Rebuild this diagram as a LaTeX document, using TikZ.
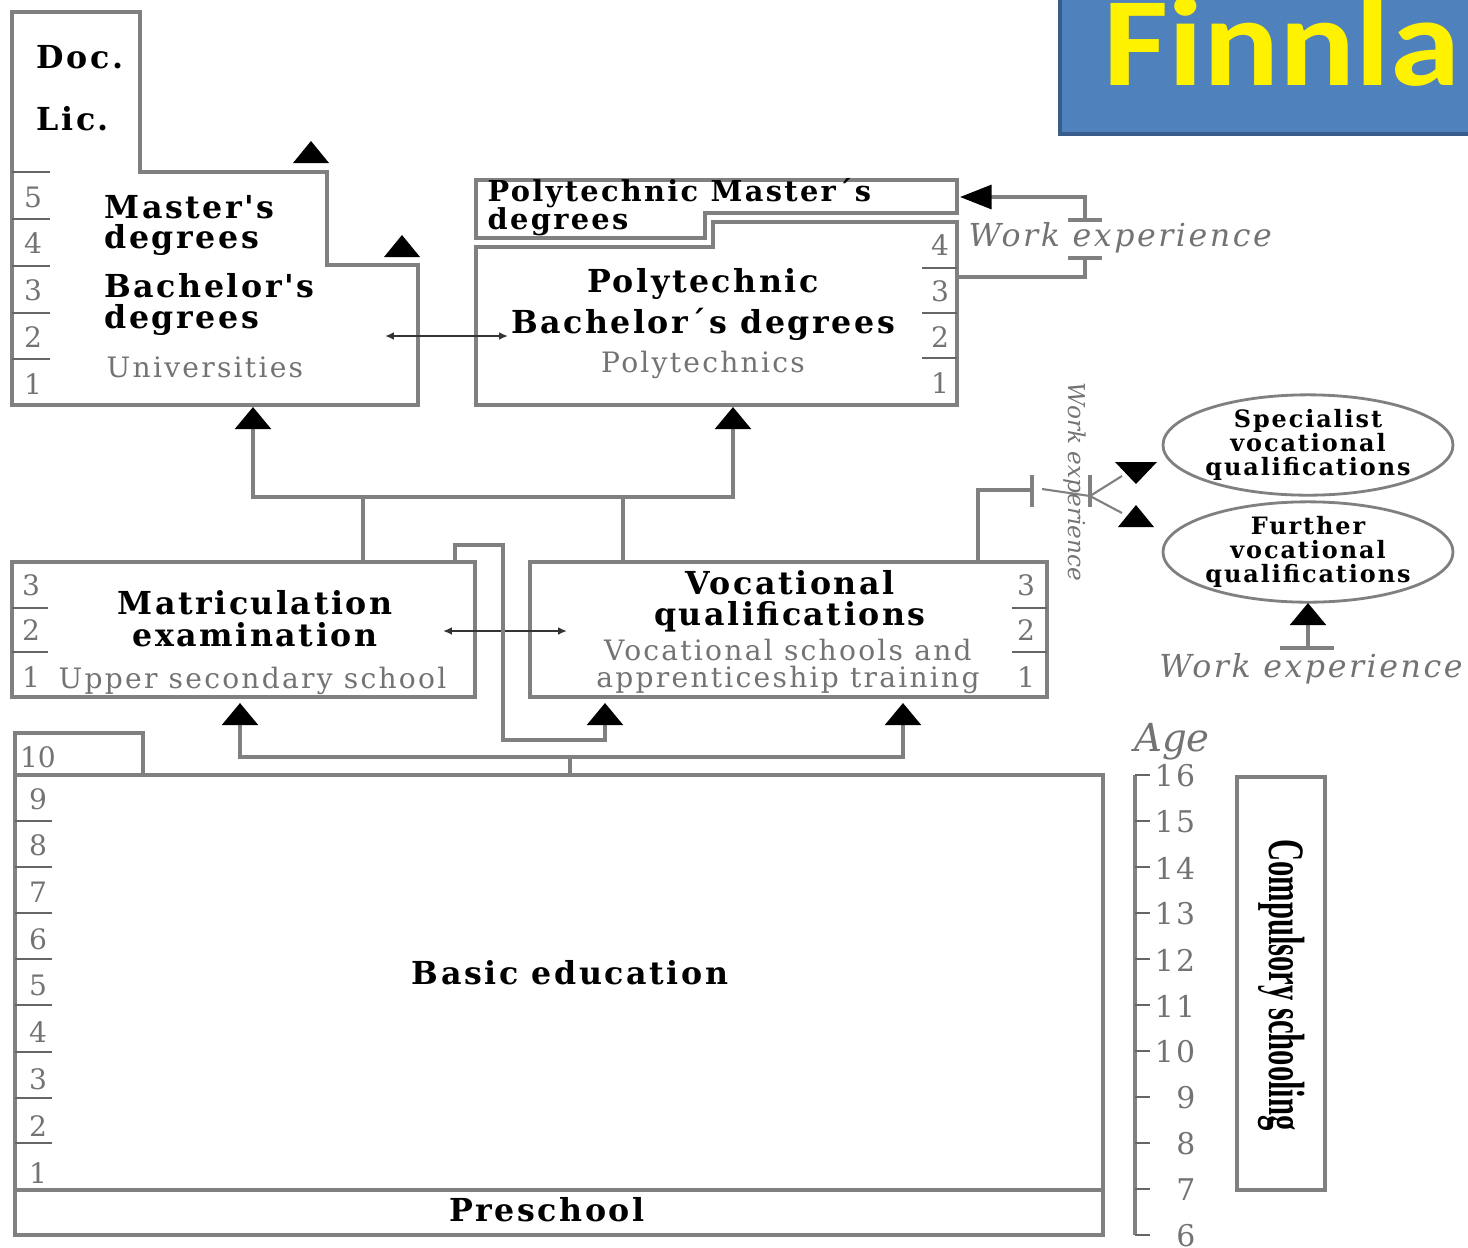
\documentclass[tikz,border=0pt]{standalone}
\usepackage{fontspec}
\usepackage{graphicx}
\setmainfont{DejaVu Serif}
\newfontfamily\spaced{DejaVu Serif}[LetterSpace=8]
\newfontfamily\narrowserif{Liberation Serif}
\newfontfamily\titlefont{Carlito}
\usetikzlibrary{arrows.meta,shapes.geometric}

\definecolor{boxgray}{RGB}{128,128,128}
\definecolor{textgray}{RGB}{115,115,115}
\definecolor{titleblue}{RGB}{79,129,189}
\definecolor{titleedge}{RGB}{56,93,138}

% lone arrow heads (x, y of the base)
\newcommand{\uptri}[2]{\fill[black] (#1-18,#2) -- (#1+18,#2) -- (#1,#2-22) -- cycle;}
\newcommand{\downtri}[2]{\fill[black] (#1-21,#2) -- (#1+21,#2) -- (#1,#2+22) -- cycle;}

\tikzset{
  box/.style={draw=boxgray, line width=1pt},
  level/.style={draw=black!60, line width=0.6pt},
  link/.style={draw=boxgray, line width=1pt},
  bigtip/.style={-{Triangle[width=10.2pt,length=6.3pt,color=black]}},
  sidetip/.style={-{Triangle[width=6.8pt,length=9pt,color=black]}},
  thinboth/.style={draw=black!80, line width=0.6pt,
    {Latex[length=2.5pt,width=2.2pt]}-{Latex[length=2.5pt,width=2.2pt]}},
  head/.style={inner sep=0pt, font=\spaced\bfseries\fontsize{9}{10}\selectfont},
  inst/.style={inner sep=0pt, font=\spaced\fontsize{8}{9}\selectfont, text=textgray},
  num/.style={font=\fontsize{8}{9}\selectfont, text=textgray},
  work/.style={inner sep=0pt, font=\spaced\itshape\fontsize{9}{10}\selectfont, text=textgray},
  oval/.style={ellipse, draw=boxgray, line width=0.8pt, inner sep=0pt,
    align=center, font=\spaced\bfseries\fontsize{6.8}{6.8}\selectfont},
}

\begin{document}
\begin{tikzpicture}[x=0.01cm, y=-0.01cm]
      \useasboundingbox (0,0) rectangle (1468,1247);
      \clip (0,0) rectangle (1468,1247);

      % title
      \fill[titleblue, draw=titleedge, line width=1pt] (1060,-10) rectangle (1480,134);
      \node[anchor=base west, inner sep=0pt, text=yellow, font=\titlefont\bfseries\fontsize{36}{36}\selectfont] (title) at (1103,85) {\scalebox{1.12}[1]{Finnla}};

      % universities
      \draw[box] (12,12) -- (140,12) -- (140,172) -- (327,172) -- (327,265) -- (418,265) -- (418,405) -- (12,405) -- cycle;
      \foreach \y in {172,219,266,313,359}
        \draw[level] (12,\y) -- (50,\y);
      \foreach \n/\y in {5/197,4/243,3/290,2/337,1/384}
        \node[num] (uni\n) at (33,\y) {\n};
      \node[head, anchor=base west] (doc) at (36,68) {Doc.};
      \node[head, anchor=base west] (lic) at (36,130) {Lic.};
      \node[head, anchor=base west] (master) at (104,218) {Master's};
      \node[head, anchor=base west] (masterb) at (104,248) {degrees};
      \node[head, anchor=base west] (bachelor) at (104,297) {Bachelor's};
      \node[head, anchor=base west] (bachelorb) at (104,328) {degrees};
      \node[inst, anchor=base west] (univ) at (106,377) {Universities};
      \uptri{311}{163}
      \uptri{402}{257}

      % polytechnics
      \draw[box] (476,180) -- (957,180) -- (957,213) -- (705,213) -- (705,238) -- (476,238) -- cycle;
      \draw[box] (476,247) -- (713,247) -- (713,222) -- (957,222) -- (957,405) -- (476,405) -- cycle;
      \foreach \y in {268,313,358}
        \draw[level] (922,\y) -- (957,\y);
      \foreach \n/\y in {4/245,3/291,2/337,1/383}
        \node[num] (poly\n) at (940,\y) {\n};
      \node[head, anchor=base west, font=\spaced\bfseries\fontsize{8.2}{9}\selectfont] (pmaster) at (487,201) {Polytechnic Master´s};
      \node[head, anchor=base west, font=\spaced\bfseries\fontsize{8.2}{9}\selectfont] (pmasterb) at (487,229) {degrees};
      \node[head, anchor=base] (pbach) at (703,292) {Polytechnic};
      \node[head, anchor=base] (pbachb) at (703,333) {Bachelor´s degrees};
      \node[inst, anchor=base] (polytech) at (703,372) {Polytechnics};

      \coordinate (uniR) at (385,336);
      \coordinate (polyL) at (508,336);
      \draw[thinboth] (uniR) -- (polyL);

      % work experience into polytechnic masters
      \coordinate (pmR) at (960,197);
      \coordinate (pbR) at (957,277);
      \coordinate (weTop) at (1085,220);
      \coordinate (weBot) at (1085,258);
      \draw[link] (pbR) -| (weBot);
      \draw[link, sidetip] (weTop) |- (pmR);
      \draw[link] (1068,220) -- (1102,220);
      \draw[link] (1068,258) -- (1102,258);
      \node[work, anchor=base west] (worktop) at (968,246) {Work experience};

      % upper secondary level
      \draw[box] (12,562) rectangle (475,697);
      \foreach \y in {608,652}
        \draw[level] (12,\y) -- (48,\y);
      \foreach \n/\y in {3/585,2/630,1/677}
        \node[num] (mat\n) at (31,\y) {\n};
      \node[head, anchor=base] (matric) at (255,614) {Matriculation};
      \node[head, anchor=base] (matricb) at (255,646) {examination};
      \node[inst, anchor=base west] (upper) at (58,688) {Upper secondary school};

      \draw[box] (530,562) rectangle (1047,697);
      \foreach \y in {608,652}
        \draw[level] (1012,\y) -- (1047,\y);
      \foreach \n/\y in {3/585,2/630,1/677}
        \node[num] (voc\n) at (1026,\y) {\n};
      \node[head, anchor=base] (vocq) at (790,594) {Vocational};
      \node[head, anchor=base] (vocqb) at (790,625) {qualifications};
      \node[inst, anchor=base] (vocs) at (788,660) {Vocational schools and};
      \node[inst, anchor=base] (vocsb) at (788,687) {apprenticeship training};

      \coordinate (matR) at (443,631);
      \coordinate (vocL) at (567,631);
      \draw[thinboth] (matR) -- (vocL);

      % to higher education
      \coordinate (uniB) at (253,407);
      \coordinate (polyB) at (733,407);
      \coordinate (matT) at (363,562);
      \coordinate (vocT) at (623,562);
      \coordinate (upL) at (253,497);
      \coordinate (upR) at (733,497);
      \draw[link, bigtip] (matT) |- (upL) -- (uniB);
      \draw[link, bigtip] (vocT) |- (upR) -- (polyB);
      \draw[link] (matT |- upL) -- (vocT |- upR);

      % matriculation to vocational
      \coordinate (matTR) at (455,562);
      \coordinate (vocB1) at (605,703);
      \draw[link, bigtip] (matTR) -- (455,545) -- (503,545) -- (503,740) -| (vocB1);

      % specialist and further qualifications
      \node[oval] (spec) at (1308,445) {Specialist\\vocational\\qualifications};
      \node[oval] (further) at (1308,552) {Further\\vocational\\qualifications};
      \coordinate (vocTR) at (978,562);
      \coordinate (tickA) at (1032,490);
      \coordinate (tickB) at (1090,496);
      \draw[link] (vocTR) |- (tickA);
      \draw[link] (1032,475) -- (1032,507);
      \draw[link] (1090,475) -- (1090,507);
      \draw[boxgray, line width=0.6pt] (1042,489) -- (tickB);
      \draw[boxgray, line width=0.6pt] (tickB) -- (1122,476);
      \draw[boxgray, line width=0.6pt] (tickB) -- (1122,513);
      \downtri{1136}{462}
      \uptri{1136}{527}
      \node[text=textgray, font=\itshape\fontsize{6.6}{7}\selectfont, rotate=-90] (workside) at (1075,482) {Work experience};

      \coordinate (furB) at (1308,603);
      \coordinate (weB) at (1308,648);
      \draw[link, bigtip] (weB) -- (furB);
      \draw[link] (1280,648) -- (1334,648);
      \node[work, anchor=base] (workbot) at (1311,677) {Work experience};

      % basic education
      \draw[box] (15,733) -- (143,733) -- (143,775) -- (1103,775) -- (1103,1235) -- (15,1235) -- cycle;
      \draw[box] (15,775) -- (143,775);
      \draw[box] (15,1190) -- (1103,1190);
      \foreach \y in {821,867,913,959,1005,1052,1098,1143}
        \draw[level] (15,\y) -- (52,\y);
      \node[num] (bas10) at (38,757) {10};
      \foreach \n [count=\i from 0] in {9,8,7,6,5,4,3,2,1}
        \node[num] (bas\n) at (38,{799+46.7*\i}) {\n};
      \node[head, anchor=base] (basic) at (570,984) {Basic education};
      \node[head, anchor=base] (pre) at (547,1221) {Preschool};

      \coordinate (basT) at (570,775);
      \coordinate (dnL) at (240,757);
      \coordinate (dnR) at (903,757);
      \coordinate (matB) at (240,703);
      \coordinate (vocB2) at (903,703);
      \draw[link] (basT) -- (basT |- dnL);
      \draw[link, bigtip] (dnR) -- (dnL) -- (matB);
      \draw[link, bigtip] (dnL) -- (dnR) -- (vocB2);

      % age scale
      \node[text=textgray, font=\itshape\fontsize{11}{12}\selectfont] (age) at (1172,742) {Age};
      \draw[link] (1135,775) -- (1135,1235);
      \foreach \a [count=\i from 0] in {16,15,14,13,12,11,10,9,8,7,6} {
        \draw[level] (1135,{775+46*\i}) -- (1150,{775+46*\i});
        \node[num, inner sep=0pt, font=\spaced\fontsize{8.5}{9}\selectfont, anchor=east] (age\a) at (1196,{776+46*\i}) {\a};
      }

      \draw[box] (1237,777) rectangle (1325,1190);
      \node[rotate=-90] (compulsory) at (1282,985) {\scalebox{0.6}[1]{\narrowserif\bfseries\fontsize{14.5}{15}\selectfont Compulsory schooling}};
\end{tikzpicture}
\end{document}
